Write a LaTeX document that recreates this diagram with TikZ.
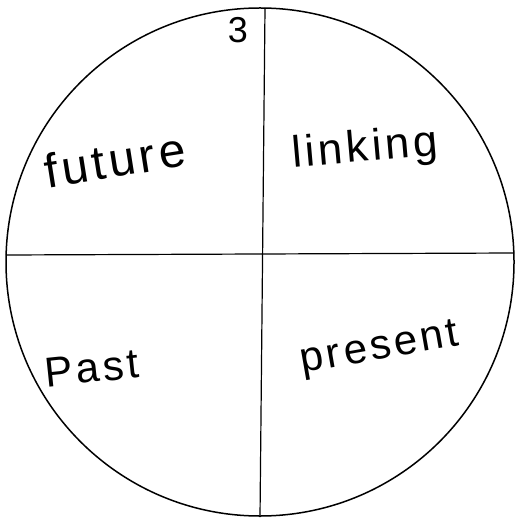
\documentclass[tikz,border=0pt]{standalone}
\usepackage{fontspec}
\setmainfont{Liberation Sans}[LetterSpace=8]
\begin{document}
\begin{tikzpicture}[x=1pt,y=-1pt,
  word/.style={inner sep=0pt, font=\fontsize{#1}{#1}\selectfont},
  rim/.style={line width=1.5pt, black},
  divider/.style={line width=1.2pt, black}]
\useasboundingbox (0,0) rectangle (515,518);
\fill[white] (0,0) rectangle (515,518);
\draw[rim] (260,262) circle (254);
\coordinate (L) at (6,255);
\coordinate (R) at (514,253);
\coordinate (T) at (265,8);
\coordinate (B) at (260,517);
\draw[divider] (L) -- (R);
\draw[divider] (T) -- (B);
\node[word=36] (three) at (238,30) {3};
\node[word=48, rotate=9] (future) at (115,160) {future};
\node[word=44, rotate=5] (linking) at (365,150) {linking};
\node[word=42, rotate=6] (past) at (92,368) {Past};
\node[word=42, rotate=10] (present) at (380,350) {present};
\end{tikzpicture}
\end{document}
